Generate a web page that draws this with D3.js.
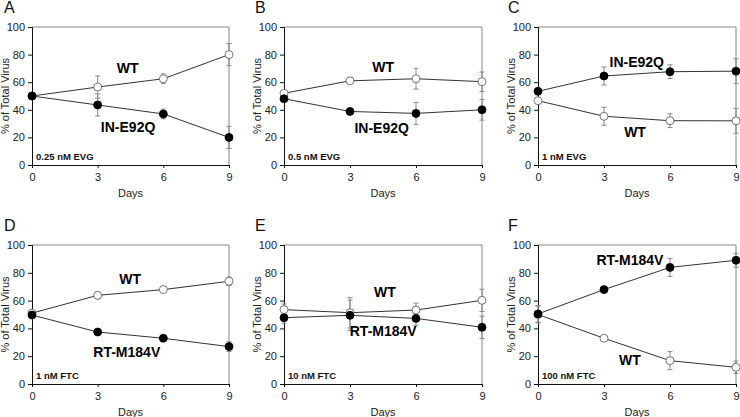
<!DOCTYPE html>
<html><head><meta charset="utf-8">
<script src="https://cdn.jsdelivr.net/npm/d3@7"></script>
<style>body{margin:0;background:#fff}svg{display:block}text{font-family:"Liberation Sans",Arial,sans-serif}</style>
</head><body>
<svg id="c" width="740" height="417"></svg>
<script>
const days = [0, 3, 6, 9];
const yTicks = [0, 20, 40, 60, 80, 100];
const panelLetters = ["A", "B", "C", "D", "E", "F"];
const drugLabels = ["0.25 nM EVG", "0.5 nM EVG", "1 nM EVG", "1 nM FTC", "10 nM FTC", "100 nM FTC"];
const mutantNames = ["IN-E92Q", "IN-E92Q", "IN-E92Q", "RT-M184V", "RT-M184V", "RT-M184V"];
const wtValues = [
  [50, 56.5, 62.5, 80],
  [52, 61, 62.5, 60.4],
  [46.6, 35.3, 32.1, 32],
  [51, 63.8, 67.9, 73.9],
  [53.5, 51.3, 53.2, 60.2],
  [50, 32.9, 16.8, 12]
];
const wtErrors = [
  [0, 8, 3.5, 8],
  [1, 1, 7.5, 7],
  [2, 6.5, 5, 9],
  [1, 2.5, 1.5, 3],
  [4, 11, 5, 8],
  [6, 1, 6.5, 4.5]
];
const mutValues = [
  [50, 43.5, 37, 20],
  [48, 38.8, 37.4, 40],
  [53.4, 64.5, 67.6, 68],
  [49.6, 37.4, 32.9, 26.9],
  [47.7, 49.4, 47.2, 40.8],
  [50.4, 67.9, 83.9, 89]
];
const mutErrors = [
  [0, 8, 3.5, 8],
  [1, 2, 8, 7.5],
  [2, 6.5, 5, 9],
  [1, 1.5, 1, 3.5],
  [4, 11, 5, 8],
  [6, 1, 6.5, 5]
];
// annotation anchor points in data units [day, value] (text baseline)
const wtLabelPos = [[4.37, 66.4], [4.51, 67.6], [4.41, 20.5], [4.48, 71.9], [4.59, 62.8], [4.18, 13.7]];
const mutLabelPos = [[4.39, 24.1], [4.44, 23], [4.49, 71.2], [4.33, 19.6], [4.51, 34.5], [4.18, 85.6]];

const svg = d3.select("#c");
const lefts = [32, 284, 538], rights = [229, 482, 736];
const tops = [27, 245], bottoms = [165, 384];

panelLetters.forEach((letter, i) => {
  const col = i % 3, row = Math.floor(i / 3);
  const x = d3.scaleLinear().domain([0, 9]).range([lefts[col], rights[col]]);
  const y = d3.scaleLinear().domain([0, 100]).range([bottoms[row], tops[row]]);
  const g = svg.append("g");

  g.append("path").attr("d", `M${x(0)},${y(100)}H${x(9)}V${y(0)}`).attr("fill", "none").attr("stroke", "#888").attr("stroke-width", 1);

  const ya = g.append("g").attr("transform", `translate(${x(0)},0)`)
    .call(d3.axisLeft(y).tickValues(yTicks).tickSize(4).tickPadding(3));
  const xa = g.append("g").attr("transform", `translate(0,${y(0)})`)
    .call(d3.axisBottom(x).tickValues(days).tickSize(3).tickPadding(5));
  [ya, xa].forEach(a => {
    a.select(".domain").attr("stroke", "#111");
    a.selectAll(".tick line").attr("stroke", "#111");
    a.selectAll("text").attr("font-size", 11).attr("fill", "#222").attr("font-family", "Liberation Sans, Arial, sans-serif");
  });

  g.append("text").attr("x", (x(0) + x(9)) / 2).attr("y", y(0) + 32).attr("text-anchor", "middle")
    .attr("font-size", 11).attr("fill", "#222").text("Days");
  g.append("text").attr("transform", `translate(${x(0) - 23},${(y(0) + y(100)) / 2}) rotate(-90)`)
    .attr("text-anchor", "middle").attr("font-size", 11).attr("fill", "#222").text("% of Total Virus");
  g.append("text").attr("x", x(0) - 28 - col).attr("y", y(100) - 14)
    .attr("font-size", 16).attr("fill", "#111").text(letter);
  g.append("text").attr("x", x(0) + 4).attr("y", y(0) - 5).attr("font-size", 9.5).attr("font-weight", "bold")
    .attr("fill", "#111").text(drugLabels[i]);

  const series = [
    {vals: wtValues[i], errs: wtErrors[i], fill: "#fff"},
    {vals: mutValues[i], errs: mutErrors[i], fill: "#000"}
  ];
  const line = d3.line().x((d, j) => x(days[j])).y(d => y(d));
  series.forEach(s => {
    g.append("path").attr("d", line(s.vals)).attr("fill", "none").attr("stroke", "#333").attr("stroke-width", 1);
  });
  series.forEach(s => {
    s.vals.forEach((v, j) => {
      const e = s.errs[j];
      if (e <= 0) return;
      const cx = x(days[j]);
      g.append("path").attr("d", `M${cx},${y(v - e)}V${y(v + e)}M${cx - 2.5},${y(v - e)}H${cx + 2.5}M${cx - 2.5},${y(v + e)}H${cx + 2.5}`)
        .attr("stroke", "#888").attr("stroke-width", 1).attr("fill", "none");
    });
  });
  series.forEach(s => {
    g.selectAll(null).data(s.vals).enter().append("circle")
      .attr("cx", (d, j) => x(days[j])).attr("cy", d => y(d)).attr("r", 4)
      .attr("fill", s.fill).attr("stroke", s.fill === "#fff" ? "#555" : "#000").attr("stroke-width", 0.8);
  });

  g.append("text").attr("x", x(wtLabelPos[i][0])).attr("y", y(wtLabelPos[i][1])).attr("text-anchor", "middle")
    .attr("font-size", 14).attr("font-weight", "bold").attr("fill", "#000").text("WT");
  g.append("text").attr("x", x(mutLabelPos[i][0])).attr("y", y(mutLabelPos[i][1])).attr("text-anchor", "middle")
    .attr("font-size", 14).attr("font-weight", "bold").attr("fill", "#000").text(mutantNames[i]);
});
</script>
</body></html>
